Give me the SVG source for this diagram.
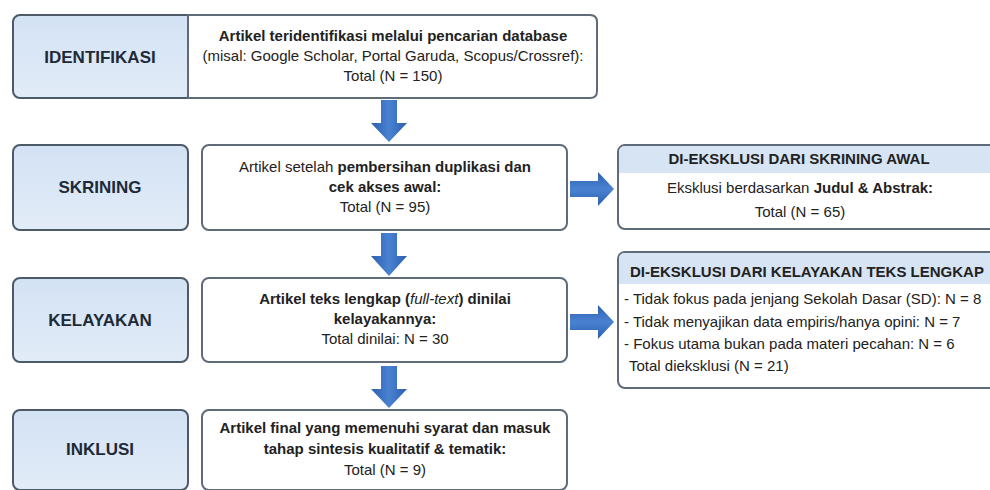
<svg xmlns="http://www.w3.org/2000/svg" width="990" height="490" viewBox="0 0 990 490">
<defs>
<linearGradient id="ag" x1="0" y1="0" x2="1" y2="0"><stop offset="0" stop-color="#2c5fae"/><stop offset="0.5" stop-color="#4a82d2"/><stop offset="1" stop-color="#2c5fae"/></linearGradient>
<linearGradient id="agv" x1="0" y1="0" x2="0" y2="1"><stop offset="0" stop-color="#2c5fae"/><stop offset="0.5" stop-color="#4a82d2"/><stop offset="1" stop-color="#2c5fae"/></linearGradient>
<linearGradient id="lg" x1="0" y1="0" x2="0" y2="1"><stop offset="0" stop-color="#d3e2f4"/><stop offset="1" stop-color="#e2ecf8"/></linearGradient>
<style>
.lbl{fill:url(#lg);stroke:#4d5a68;stroke-width:2}
.box{fill:#ffffff;stroke:#5f6b78;stroke-width:2}
.band{fill:#d6e4f4}
.t{font-family:"Liberation Sans",Arial,sans-serif;font-size:15px;fill:#222;text-anchor:middle}
.b{font-weight:bold}
.h{font-family:"Liberation Sans",Arial,sans-serif;font-size:17px;font-weight:bold;fill:#1e2a38;text-anchor:middle}
.l{font-family:"Liberation Sans",Arial,sans-serif;font-size:15px;fill:#222}
.arr{fill:url(#agv)}
.arh{fill:url(#ag)}
</style>
</defs>
<rect width="990" height="490" fill="#ffffff"/>

<g id="connectors">
<path class="arh" d="M381,100 H397 V123 H407 L389,142 L371,123 H381 Z"/>
<path class="arh" d="M381,233 H397 V256 H407 L389,276 L371,256 H381 Z"/>
<path class="arh" d="M381,366 H397 V389 H407 L389,408 L371,389 H381 Z"/>
<path class="arr" d="M570,181 H598 V172 L614,189 L598,206 V197 H570 Z"/>
<path class="arr" d="M570,314 H598 V305 L614,322 L598,339 V330 H570 Z"/>
</g>

<g id="identifikasi">
<rect class="lbl" x="13" y="15" width="180" height="83" rx="7"/>
<text class="h" x="100" y="63">IDENTIFIKASI</text>
</g>
<g id="identifikasi-box">
<path class="box" d="M188,15 H590 Q597,15 597,22 V91 Q597,98 590,98 H188 Z"/>
<text class="t b" x="393" y="41">Artikel teridentifikasi melalui pencarian database</text>
<text class="t" x="393" y="61">(misal: Google Scholar, Portal Garuda, Scopus/Crossref):</text>
<text class="t" x="393" y="81">Total (N = 150)</text>
</g>

<g id="skrining">
<rect class="lbl" x="13" y="145" width="175" height="85" rx="7"/>
<text class="h" x="100" y="193">SKRINING</text>
</g>
<g id="skrining-box">
<rect class="box" x="202" y="145" width="365" height="85" rx="7"/>
<text class="t" x="385" y="172">Artikel setelah <tspan class="b">pembersihan duplikasi dan</tspan></text>
<text class="t b" x="385" y="192">cek akses awal:</text>
<text class="t" x="385" y="212">Total (N = 95)</text>
</g>

<g id="eksklusi-skrining">
<rect class="box" x="618" y="145" width="378" height="84" rx="7"/>
<path class="band" d="M619,173 V152 Q619,146 625,146 H995 V173 Z"/>
<text class="t b" x="799" y="164" font-size="13.5">DI-EKSKLUSI DARI SKRINING AWAL</text>
<text class="t" x="800" y="193" font-size="16">Eksklusi berdasarkan <tspan class="b">Judul &amp; Abstrak:</tspan></text>
<text class="t" x="800" y="217" font-size="16">Total (N = 65)</text>
</g>

<g id="kelayakan">
<rect class="lbl" x="13" y="278" width="175" height="84" rx="7"/>
<text class="h" x="100" y="326">KELAYAKAN</text>
</g>
<g id="kelayakan-box">
<rect class="box" x="202" y="278" width="365" height="84" rx="7"/>
<text class="t" x="385" y="304"><tspan class="b">Artikel teks lengkap (</tspan><tspan font-style="italic">full-text</tspan><tspan class="b">) dinilai</tspan></text>
<text class="t b" x="385" y="324">kelayakannya:</text>
<text class="t" x="385" y="344">Total dinilai: N = 30</text>
</g>

<g id="eksklusi-kelayakan">
<rect class="box" x="618" y="252" width="378" height="136" rx="7"/>
<path class="band" d="M619,284 V259 Q619,253 625,253 H995 V284 Z"/>
<text class="t b" x="807" y="277" font-size="14">DI-EKSKLUSI DARI KELAYAKAN TEKS LENGKAP</text>
<text class="l" x="624" y="304">- Tidak fokus pada jenjang Sekolah Dasar (SD): N = 8</text>
<text class="l" x="624" y="327">- Tidak menyajikan data empiris/hanya opini: N = 7</text>
<text class="l" x="624" y="349">- Fokus utama bukan pada materi pecahan: N = 6</text>
<text class="l" x="629" y="371">Total dieksklusi (N = 21)</text>
</g>

<g id="inklusi">
<rect class="lbl" x="13" y="410" width="175" height="80" rx="7"/>
<text class="h" x="100" y="455">INKLUSI</text>
</g>
<g id="inklusi-box">
<rect class="box" x="202" y="410" width="365" height="80" rx="7"/>
<text class="t b" x="385" y="433">Artikel final yang memenuhi syarat dan masuk</text>
<text class="t b" x="385" y="454">tahap sintesis kualitatif &amp; tematik:</text>
<text class="t" x="385" y="475">Total (N = 9)</text>
</g>
</svg>
